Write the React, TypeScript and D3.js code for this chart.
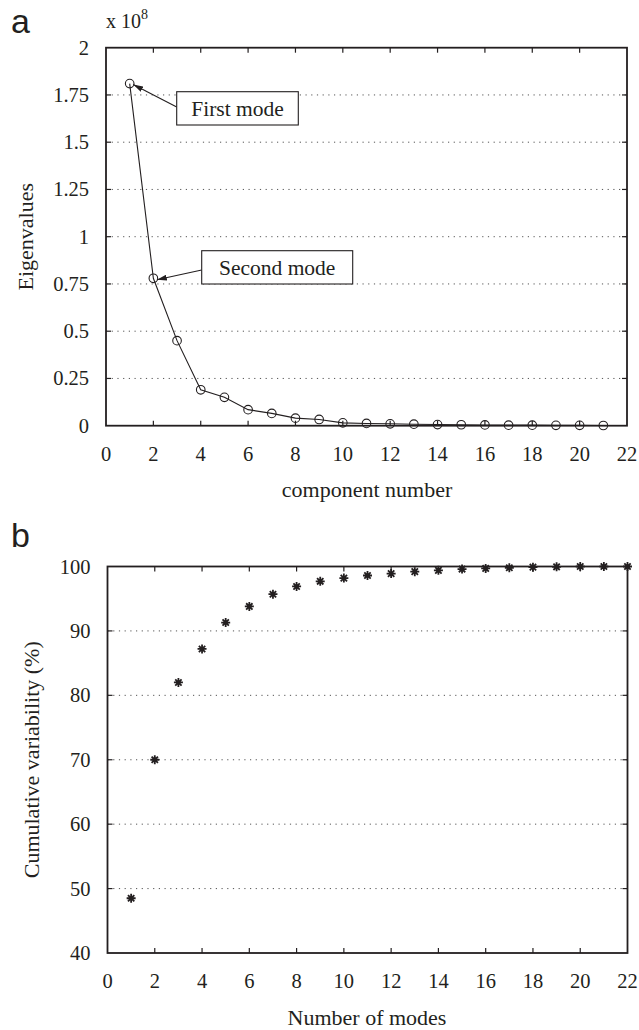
import * as d3 from 'd3';
import React from 'react';

// component numbers / modes
const components = d3.range(1, 22);
const modes = d3.range(1, 23);

// eigenvalues (x 10^8)
const eigenvalues = [
  1.81, 0.78, 0.45, 0.19, 0.15, 0.085, 0.065, 0.04, 0.033, 0.015, 0.012,
  0.01, 0.008, 0.006, 0.005, 0.004, 0.003, 0.003, 0.002, 0.002, 0.001,
];

// cumulative variability (%)
const cumulative = [
  48.5, 70, 82, 87.2, 91.3, 93.8, 95.7, 96.9, 97.7, 98.2, 98.6, 98.9, 99.2,
  99.4, 99.6, 99.7, 99.8, 99.9, 99.95, 100, 100, 100,
];

const xTicks = d3.range(0, 23, 2);
const eigenTicks = [0, 0.25, 0.5, 0.75, 1, 1.25, 1.5, 1.75, 2];
const cumTicks = [40, 50, 60, 70, 80, 90, 100];

const FONT = 'Liberation Serif, DejaVu Serif, serif';
const SANS = 'Liberation Sans, Arial, sans-serif';
const INK = '#231f20';

function Frame({ x, y, yTicks, yFmt }) {
  const [x0, x1] = x.range();
  const [y0, y1] = y.range();
  return (
    <g>
      {/* dotted grid */}
      {yTicks.slice(1, -1).map((t) => (
        <line key={'g' + t} x1={x0} x2={x1} y1={y(t)} y2={y(t)}
          stroke="#555" strokeWidth={1} strokeDasharray="1.2,4.5" />
      ))}
      {/* ticks */}
      {xTicks.slice(1, -1).map((t) => (
        <g key={'xt' + t}>
          <line x1={x(t)} x2={x(t)} y1={y0} y2={y0 - 5} stroke={INK} strokeWidth={1.2} />
          <line x1={x(t)} x2={x(t)} y1={y1} y2={y1 + 5} stroke={INK} strokeWidth={1.2} />
        </g>
      ))}
      {yTicks.slice(1, -1).map((t) => (
        <g key={'yt' + t}>
          <line x1={x0} x2={x0 + 5} y1={y(t)} y2={y(t)} stroke={INK} strokeWidth={1.2} />
          <line x1={x1} x2={x1 - 5} y1={y(t)} y2={y(t)} stroke={INK} strokeWidth={1.2} />
        </g>
      ))}
      <rect x={x0} y={y1} width={x1 - x0} height={y0 - y1} fill="none" stroke={INK} strokeWidth={1.8} />
      {/* tick labels */}
      {xTicks.map((t) => (
        <text key={'xl' + t} x={x(t)} y={y0 + 35} textAnchor="middle"
          style={{ fontFamily: FONT }} fontSize={20.5} fill={INK}>{t}</text>
      ))}
      {yTicks.map((t) => (
        <text key={'yl' + t} x={x0 - 17} y={y(t) + 7} textAnchor="end"
          style={{ fontFamily: FONT }} fontSize={20.5} fill={INK}>{yFmt(t)}</text>
      ))}
    </g>
  );
}

export default function App() {
  const xa = d3.scaleLinear().domain([0, 22]).range([106, 627]);
  const ya = d3.scaleLinear().domain([0, 2]).range([425.7, 47.7]);
  const xb = d3.scaleLinear().domain([0, 22]).range([107.5, 627.5]);
  const yb = d3.scaleLinear().domain([40, 100]).range([953, 566.5]);

  const line = d3.line<number>()
    .x((d, i) => xa(components[i]))
    .y((d) => ya(d));

  const star = (s: number) => {
    const p = d3.path();
    for (let k = 0; k < 4; k++) {
      const a = (k * Math.PI) / 4;
      p.moveTo(-s * Math.cos(a), -s * Math.sin(a));
      p.lineTo(s * Math.cos(a), s * Math.sin(a));
    }
    return p.toString();
  };

  const p1 = [xa(components[0]), ya(eigenvalues[0])];
  const p2 = [xa(components[1]), ya(eigenvalues[1])];
  const serif = { fontFamily: FONT };

  return (
    <div style={{ position: 'absolute', left: 0, top: 0 }}>
      <svg width={639} height={1030} style={{ display: 'block', background: '#fff' }}>
        <defs>
          <marker id="ah" viewBox="0 0 10 6" refX={10} refY={3} markerWidth={10} markerHeight={6}
            markerUnits="userSpaceOnUse" orient="auto">
            <path d="M0,0 L10,3 L0,6 Z" fill={INK} />
          </marker>
        </defs>

        {/* panel a */}
        <text x={11} y={33} style={{ fontFamily: SANS }} fontSize={34} fill={INK}>a</text>
        <text x={106} y={28} style={serif} fontSize={20} fill={INK}>
          x 10<tspan dy={-9} fontSize={14}>8</tspan>
        </text>
        <Frame x={xa} y={ya} yTicks={eigenTicks} yFmt={(t) => String(t)} />
        <path d={line(eigenvalues) || ''} fill="none" stroke={INK} strokeWidth={1.1} />
        {eigenvalues.map((v, i) => (
          <circle key={i} cx={xa(components[i])} cy={ya(v)} r={4.3}
            fill="none" stroke={INK} strokeWidth={1.1} />
        ))}
        {/* annotations */}
        <line x1={176.7} y1={107} x2={p1[0] + 3.5} y2={p1[1] + 1} stroke={INK} strokeWidth={1.1} markerEnd="url(#ah)" />
        <rect x={176.7} y={91.7} width={121.6} height={33.3} fill="#fff" stroke={INK} strokeWidth={1.1} />
        <text x={237.5} y={115.5} textAnchor="middle" style={serif} fontSize={21.5} fill={INK}>First mode</text>
        <line x1={201.7} y1={270} x2={p2[0] + 3.5} y2={p2[1] + 1.5} stroke={INK} strokeWidth={1.1} markerEnd="url(#ah)" />
        <rect x={201.7} y={250.7} width={151} height={33.3} fill="#fff" stroke={INK} strokeWidth={1.1} />
        <text x={277.2} y={274.5} textAnchor="middle" style={serif} fontSize={21.5} fill={INK}>Second mode</text>
        <text x={367} y={497} textAnchor="middle" style={serif} fontSize={22} fill={INK}>component number</text>
        <text transform={`translate(33,${(ya.range()[0] + ya.range()[1]) / 2}) rotate(-90)`} textAnchor="middle"
          style={serif} fontSize={22} fill={INK}>Eigenvalues</text>

        {/* panel b */}
        <text x={11} y={547} style={{ fontFamily: SANS }} fontSize={34} fill={INK}>b</text>
        <Frame x={xb} y={yb} yTicks={cumTicks} yFmt={(t) => String(t)} />
        {cumulative.map((v, i) => (
          <path key={i} transform={`translate(${xb(modes[i])},${yb(v)})`} d={star(4.5)}
            stroke={INK} strokeWidth={1.8} fill="none" />
        ))}
        <text x={367} y={1025} textAnchor="middle" style={serif} fontSize={22} fill={INK}>Number of modes</text>
        <text transform={`translate(39,${(yb.range()[0] + yb.range()[1]) / 2}) rotate(-90)`} textAnchor="middle"
          style={serif} fontSize={22} fill={INK}>Cumulative variability (%)</text>
      </svg>
    </div>
  );
}
